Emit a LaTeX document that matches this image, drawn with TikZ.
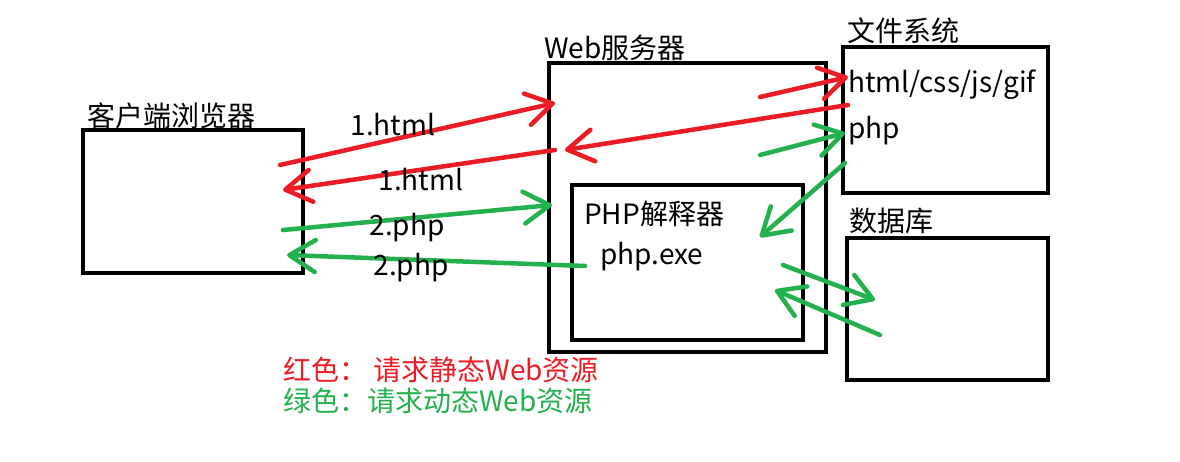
\documentclass[tikz,border=0pt]{standalone}
\usepackage{fontspec}
\setmainfont{Noto Sans CJK SC}
\usetikzlibrary{arrows.meta, positioning}
\definecolor{paintred}{RGB}{237, 28, 36}
\definecolor{paintgreen}{RGB}{34, 177, 76}
\tikzset{
  box/.style={rectangle, draw=black, line width=4pt, inner sep=0pt},
  boxlabel/.style={anchor=south west, inner sep=0pt, font=\fontsize{28}{32}\selectfont},
  innertext/.style={anchor=west, inner sep=0pt, font=\fontsize{28}{32}\selectfont},
  redarrow/.style={draw=paintred, line width=4.5pt, line cap=round,
    -{Straight Barb[length=26pt, width=32pt, round]}},
  greenarrow/.style={draw=paintgreen, line width=4.5pt, line cap=round,
    -{Straight Barb[length=26pt, width=32pt, round]}},
  arrowlabel/.style={inner sep=0pt, font=\fontsize{28}{32}\selectfont}
}

\begin{document}
\begin{tikzpicture}[x=1pt, y=-1pt]
\useasboundingbox (0,0) rectangle (1180,462);

% boxes
\node (client)    [box, minimum width=220pt, minimum height=143pt] at (193,201.5) {};
\node (webserver) [box, minimum width=277pt, minimum height=289pt] at (687.5,207.5) {};
\node (phpbox)    [box, minimum width=231pt, minimum height=155pt] at (687.5,262.5) {};
\node (filesys)   [box, minimum width=205pt, minimum height=146pt] at (945.5,120) {};
\node (database)  [box, minimum width=201pt, minimum height=142pt] at (947.5,309) {};

% box titles
\node (clientlabel)   [boxlabel] at (87,129)  {客户端浏览器};
\node (weblabel)      [boxlabel] at (544,61)  {Web服务器};
\node (phplabel)      [boxlabel] at (584,227) {PHP解释器};
\node (phpexe)        [innertext] at (600,257) {php.exe};
\node (fslabel)       [boxlabel] at (847,44)  {文件系统};
\node (dblabel)       [boxlabel] at (849,234) {数据库};
\node (statictype)    [innertext] at (848,85)  {html/css/js/gif};
\node (dynamictype)   [innertext] at (848,131) {php};

% arrow ends
\coordinate (c1) at (280,165);  \coordinate (w1) at (555,103);
\coordinate (w2) at (555,150);  \coordinate (c2) at (283,190);
\coordinate (w3) at (760,97);   \coordinate (f3) at (848,77);
\coordinate (f4) at (848,105);  \coordinate (w4) at (565,150);
\coordinate (c5) at (283,230);  \coordinate (w5) at (552,205);
\coordinate (p6) at (585,266);  \coordinate (c6) at (287,255);
\coordinate (w7) at (760,155);  \coordinate (f7) at (845,133);
\coordinate (f8) at (845,163);  \coordinate (p8) at (760,237);
\coordinate (p9) at (783,265);  \coordinate (d9) at (875,300);
\coordinate (d10) at (880,335); \coordinate (p10) at (775,290);

% static requests
\draw[redarrow] (c1) -- (w1);
\draw[redarrow] (w2) -- (c2);
\draw[redarrow] (w3) -- (f3);
\draw[redarrow] (f4) -- (w4);

% dynamic requests
\draw[greenarrow] (c5) -- (w5);
\draw[greenarrow] (p6) -- (c6);
\draw[greenarrow] (w7) -- (f7);
\draw[greenarrow] (f8) -- (p8);
\draw[greenarrow] (p9) -- (d9);
\draw[greenarrow] (d10) -- (p10);

% arrow labels
\node (html1) [arrowlabel] at (393,125) {1.html};
\node (html2) [arrowlabel] at (421,180) {1.html};
\node (php1)  [arrowlabel] at (407,228) {2.php};
\node (php2)  [arrowlabel] at (411,268) {2.php};

% legend
\node (legendred)   [innertext, text=paintred]   at (283,370) {红色： 请求静态Web资源};
\node (legendgreen) [innertext, text=paintgreen] at (283,401) {绿色：请求动态Web资源};
\end{tikzpicture}
\end{document}
